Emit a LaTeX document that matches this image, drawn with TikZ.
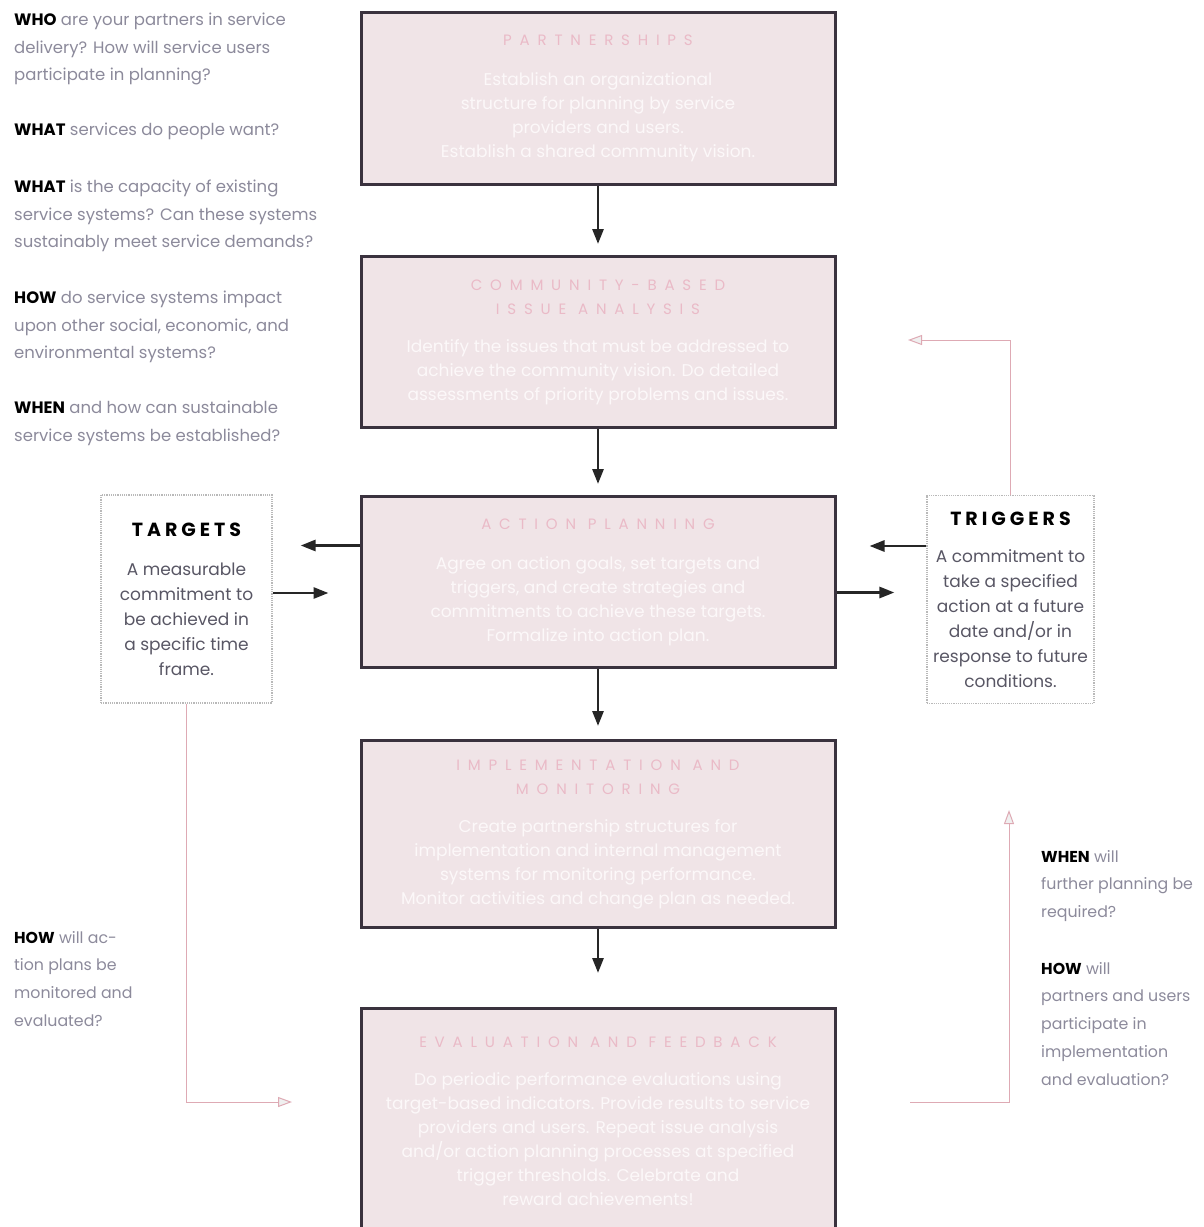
\documentclass[tikz,border=0pt]{standalone}
\usepackage{fontspec}
\setmainfont{Poppins}
\usetikzlibrary{positioning, arrows.meta, calc}

\definecolor{boxfill}{RGB}{240,228,231}
\definecolor{boxline}{RGB}{58,50,62}
\definecolor{boxtext}{RGB}{252,248,249}
\definecolor{titlepink}{RGB}{234,186,199}
\definecolor{qgray}{RGB}{140,138,155}
\definecolor{asidegray}{RGB}{88,86,100}
\definecolor{fbpink}{RGB}{222,170,180}

\newcommand{\stagetitle}[1]{{\color{titlepink}\fontsize{15}{23}\selectfont\addfontfeatures{LetterSpace=52}#1}}
\newcommand{\asidetitle}[1]{{\color{black}\bfseries\fontsize{19}{22}\selectfont\addfontfeatures{LetterSpace=21}#1}}
\newcommand{\qword}[1]{{\color{black}\bfseries #1}}

\begin{document}
\begin{tikzpicture}[
    x=1pt, y=-1pt,
    node distance=70pt,
    stage/.style={rectangle, draw=boxline, line width=3pt, fill=boxfill, minimum width=474pt, align=center, text=boxtext, font=\fontsize{17}{24}\selectfont},
    aside/.style={rectangle, draw=gray!55, densely dotted, line width=1.2pt, minimum width=171pt, minimum height=208pt, align=center, text=asidegray, font=\fontsize{17}{25}\selectfont},
    ask/.style={anchor=north west, align=left, inner sep=0pt, text=qgray, font=\fontsize{16.5}{27.5}\selectfont},
    smallask/.style={ask, font=\fontsize{15.8}{27.7}\selectfont},
    arrow/.style={-{Triangle[length=15pt, width=11pt]}, line width=2.8pt, draw=black!85},
    feedback/.style={-{Triangle[length=14pt, width=10pt, fill=gray!12]}, line width=1pt, draw=fbpink}
]

\useasboundingbox (0,0) rectangle (1204,1227);

\node[stage, minimum height=172pt, anchor=north] (part) at (598,11)
    {\stagetitle{PARTNERSHIPS}\\[16pt]
     Establish an organizational\\
     structure for planning by service\\
     providers and users.\\
     Establish a shared community vision.};
\node[stage, minimum height=171pt, below=69pt of part] (issue)
    {\stagetitle{COMMUNITY-BASED}\\ \stagetitle{ISSUE ANALYSIS}\\[14pt]
     Identify the issues that must be addressed to\\
     achieve the community vision. Do detailed\\
     assessments of priority problems and issues.};
\node[stage, minimum height=171pt, below=66pt of issue] (plan)
    {\stagetitle{ACTION PLANNING}\\[16pt]
     Agree on action goals, set targets and\\
     triggers, and create strategies and\\
     commitments to achieve these targets.\\
     Formalize into action plan.};
\node[stage, minimum height=187pt, below=70pt of plan] (impl)
    {\stagetitle{IMPLEMENTATION AND}\\ \stagetitle{MONITORING}\\[14pt]
     Create partnership structures for\\
     implementation and internal management\\
     systems for monitoring performance.\\
     Monitor activities and change plan as needed.};
\node[stage, minimum height=226pt, below=78pt of impl] (eval)
    {\stagetitle{EVALUATION AND FEEDBACK}\\[14pt]
     Do periodic performance evaluations using\\
     target-based indicators. Provide results to service\\
     providers and users. Repeat issue analysis\\
     and/or action planning processes at specified\\
     trigger thresholds. Celebrate and\\
     reward achievements!};

\node[aside] (tgt) at (186.5,599)
    {\asidetitle{TARGETS}\\[14pt]
     A measurable\\ commitment to\\ be achieved in\\ a specific time\\ frame.};
\node[aside, minimum width=167pt] (trg) at (1010.5,599.5)
    {\asidetitle{TRIGGERS}\\[12pt]
     A commitment to\\ take a specified\\ action at a future\\ date and/or in\\ response to future\\ conditions.};

\node[ask] (who) at (14,13)
    {\qword{WHO} are your partners in service\\ delivery? How will service users\\ participate in planning?};
\node[ask] (want) at (14,123) {\qword{WHAT} services do people want?};
\node[ask] (capacity) at (14,180)
    {\qword{WHAT} is the capacity of existing\\ service systems? Can these systems\\ sustainably meet service demands?};
\node[ask] (impact) at (14,291)
    {\qword{HOW} do service systems impact\\ upon other social, economic, and\\ environmental systems?};
\node[ask] (when) at (14,401)
    {\qword{WHEN} and how can sustainable\\ service systems be established?};
\node[smallask] (monitor) at (14,931)
    {\qword{HOW} will ac-\\ tion plans be\\ monitored and\\ evaluated?};
\node[smallask] (further) at (1041,850)
    {\qword{WHEN} will\\ further planning be\\ required?};
\node[smallask] (users) at (1041,962)
    {\qword{HOW} will\\ partners and users\\ participate in\\ implementation\\ and evaluation?};

\draw[arrow, shorten >=11pt] (part) -- (issue);
\draw[arrow, shorten >=11pt] (issue) -- (plan);
\draw[arrow, shorten >=13pt] (plan) -- (impl);
\draw[arrow, shorten >=34pt] (impl) -- (eval);

\draw[arrow, shorten >=28pt] ([yshift=36.5pt]plan.west) -- ([yshift=36.5pt]plan.west -| tgt.east);
\draw[arrow, shorten >=31pt] ([yshift=6pt]tgt.east) -- ([yshift=6pt]tgt.east -| plan.west);
\draw[arrow, shorten >=33pt] ([yshift=53.5pt]trg.west) -- ([yshift=53.5pt]trg.west -| plan.east);
\draw[arrow, shorten >=32pt] ([yshift=-10.5pt]plan.east) -- ([yshift=-10.5pt]plan.east -| trg.west);

\coordinate (tgtend) at (292,1102);
\coordinate (evalout) at (910,1102);
\coordinate (upend) at (1009,810);
\coordinate (trgend) at (908,340);

\draw[feedback] (tgt.south) |- (tgtend);
\draw[feedback] (evalout) -| (upend);
\draw[feedback] (trg.north) |- (trgend);

\end{tikzpicture}
\end{document}
